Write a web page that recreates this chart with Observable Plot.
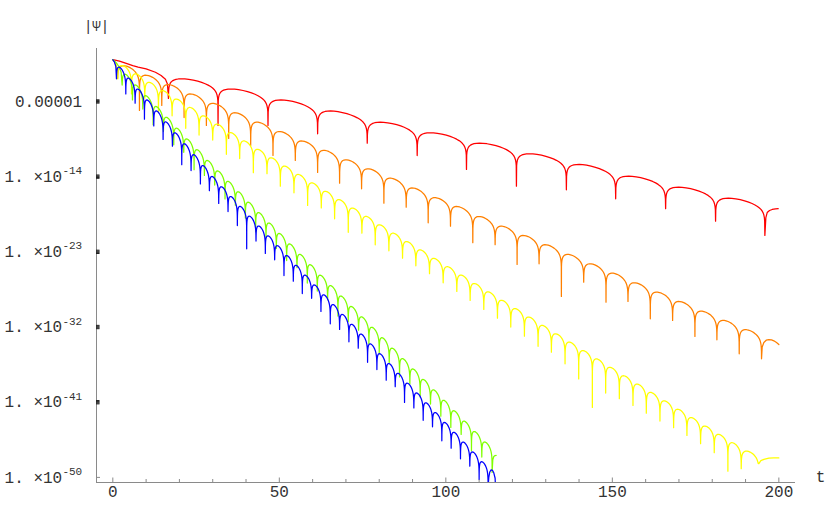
<!DOCTYPE html>
<html>
<head>
<meta charset="utf-8">
<script src="https://cdn.jsdelivr.net/npm/d3@7"></script>
<script src="https://cdn.jsdelivr.net/npm/@observablehq/plot@0.6"></script>
<style>
  html, body { margin: 0; padding: 0; background: #fff; }
  svg { display: block; }
</style>
</head>
<body>
<script>
// ---------- DATA (v = log10 |Psi|) ----------
// Red series
const redHead = [[0,0],[2,-0.18],[3.8,-0.42],[6,-0.7],[7.6,-0.88],[10,-1.1],[12.8,-1.5],[14.5,-1.9],[15.8,-2.35],[16.4,-2.9]];
const redDips = [16.7, 31.6, 46.6, 61.5, 76.4, 91.4, 106.2, 121.2, 136.2, 151.0, 166.0, 181.0, 195.8];
const redDepths = [-4.64, -7.87, -7.87, -8.87, -10.00, -11.47, -13.14, -15.14, -15.57, -16.65, -17.84, -19.33, -21.04];
const redTops = [-2.29, -3.51, -4.82, -6.14, -7.48, -8.75, -9.99, -11.26, -12.54, -13.94, -15.26, -16.58];
const redTail = [[196.1,-18.9],[196.5,-18.3],[197.2,-18.05],[198,-17.93],[199,-17.86],[199.8,-17.84]];

// Orange series
const orangeHead = [[0,0],[0.6,-0.3],[1.1,-0.9]];
const orangeDips = [1.4, 8.0, 14.7, 21.4, 28.1, 34.8, 41.4, 48.1, 54.8, 61.5, 68.1, 74.7, 81.4, 88.1, 94.7, 101.4, 108.1, 114.8, 121.4, 128.0, 134.7, 141.4, 148.1, 154.7, 161.4, 168.1, 174.8, 181.4, 188.1, 194.8];
const orangeDepths = [-2.25, -6.08, -5.48, -6.92, -7.87, -9.43, -10.27, -11.46, -12.06, -13.50, -14.78, -15.45, -17.17, -17.65, -19.52, -19.93, -21.91, -22.15, -24.51, -24.43, -28.34, -26.63, -29.02, -28.94, -31.01, -31.21, -33.13, -33.53, -35.20, -35.80];
const orangeTops = [-0.73, -1.86, -2.98, -4.10, -5.23, -6.35, -7.48, -8.60, -9.73, -10.85, -11.98, -13.06, -14.18, -15.35, -16.52, -17.57, -18.77, -19.93, -21.04, -22.15, -23.31, -24.43, -25.55, -26.70, -27.82, -28.94, -30.10, -31.21, -32.32];
const orangeTail = [[195.0,-34.4],[195.5,-33.85],[196.2,-33.58],[197,-33.5],[197.8,-33.53],[198.5,-33.65],[199.3,-33.86],[200,-34.1]];

// Yellow series
const yellowHead = [[0,0],[0.7,-0.3],[1.2,-1.0]];
const yellowDips = [1.5, 5.6, 9.6, 13.7, 17.8, 21.9, 25.9, 30.0, 34.1, 38.1, 42.2, 46.3, 50.3, 54.4, 58.5, 62.6, 66.6, 70.7, 74.8, 78.8, 82.9, 87.0, 91.0, 95.1, 99.2, 103.3, 107.3, 111.4, 115.5, 119.5, 123.6, 127.7, 131.7, 135.8, 139.9, 144.0, 148.0, 152.1, 156.2, 160.2, 164.3, 168.4, 172.4, 176.5, 180.6, 184.7, 188.7, 194.0];
const yellowDepths = [-2.30, -4.10, -4.61, -6.31, -6.71, -8.22, -9.02, -9.62, -11.33, -11.83, -13.53, -13.64, -15.14, -15.94, -17.45, -17.75, -19.05, -20.66, -20.76, -22.16, -22.87, -23.76, -24.67, -25.62, -26.70, -27.74, -28.82, -29.89, -30.94, -32.01, -33.09, -34.31, -35.01, -36.41, -38.22, -41.63, -39.91, -40.58, -41.38, -42.31, -43.26, -44.05, -44.97, -45.97, -47.04, -49.25, -48.96, -48.36];
const yellowTops = [-0.70, -1.70, -2.71, -3.71, -4.71, -5.72, -6.72, -7.72, -8.73, -9.73, -10.73, -11.74, -12.74, -13.74, -14.75, -15.75, -16.75, -17.76, -18.76, -19.76, -20.77, -21.77, -22.77, -23.78, -24.78, -25.79, -26.79, -27.79, -28.80, -29.80, -30.80, -31.81, -32.81, -33.81, -34.82, -35.82, -36.82, -37.83, -38.83, -39.83, -40.84, -41.84, -42.84, -43.85, -44.85, -45.85, -46.86];
const yellowTail = [[194.6,-48.0],[195.5,-47.85],[197,-47.7],[198.5,-47.66],[200,-47.67]];

// Green series
const greenHead = [[0,0],[1,-0.35],[1.9,-0.85],[2.5,-1.5]];
const greenDips = [2.8, 5.9, 9.0, 12.1, 15.2, 18.3, 21.3, 24.4, 27.5, 30.6, 33.7, 36.8, 39.8, 42.9, 46.0, 49.1, 52.2, 55.3, 58.4, 61.4, 64.5, 67.6, 70.7, 73.8, 76.9, 80.0, 83.0, 86.1, 89.2, 92.3, 95.4, 98.5, 101.5, 104.6, 107.7, 110.8, 113.9];
const greenDepths = [-3.03, -4.82, -5.91, -7.80, -8.59, -10.19, -11.08, -13.17, -13.86, -15.01, -16.66, -17.41, -18.96, -20.60, -21.25, -22.60, -24.05, -24.90, -26.74, -27.69, -28.74, -30.69, -31.34, -32.38, -34.03, -35.18, -36.23, -37.98, -38.82, -40.37, -41.22, -42.67, -44.02, -44.86, -46.81, -47.56, -49.4];
const greenTops = [-1.73, -3.02, -4.31, -5.60, -6.89, -8.19, -9.48, -10.77, -12.06, -13.31, -14.56, -15.81, -17.06, -18.30, -19.55, -20.80, -22.05, -23.30, -24.54, -25.79, -27.04, -28.29, -29.54, -30.78, -32.03, -33.28, -34.53, -35.78, -37.02, -38.27, -39.52, -40.77, -42.02, -43.26, -44.51, -45.76];
const greenTail = [[114.1,-47.9],[114.4,-47.5],[114.8,-47.38],[115.1,-47.37]];

// Blue series
const blueHead = [[0,0],[0.5,-0.3],[0.9,-0.8]];
const blueDips = [1.1, 3.9, 6.7, 9.5, 12.3, 15.1, 17.9, 20.7, 23.5, 26.3, 29.0, 31.8, 34.6, 37.4, 40.2, 43.0, 45.8, 48.6, 51.4, 54.2, 56.9, 59.7, 62.5, 65.3, 68.1, 70.9, 73.7, 76.5, 79.3, 82.1, 84.8, 87.6, 90.4, 93.2, 96.0, 98.8, 101.6, 104.4, 107.2, 110.0, 112.7];
const blueDepths = [-2.29, -4.10, -5.21, -7.12, -7.93, -9.54, -10.35, -12.56, -13.27, -14.87, -15.68, -17.21, -18.18, -19.86, -22.63, -21.71, -23.19, -23.96, -25.84, -26.51, -27.99, -28.56, -30.14, -31.61, -32.29, -33.77, -34.54, -36.22, -37.09, -38.37, -39.14, -41.02, -41.69, -43.17, -43.94, -45.62, -46.50, -47.77, -48.65, -50.22, -51.1];
const blueTops = [-0.89, -2.20, -3.51, -4.82, -6.13, -7.44, -8.75, -10.06, -11.37, -12.67, -13.98, -15.21, -16.38, -17.56, -18.73, -19.91, -21.09, -22.26, -23.44, -24.61, -25.79, -26.96, -28.14, -29.31, -30.49, -31.67, -32.84, -34.02, -35.19, -36.37, -37.54, -38.72, -39.89, -41.07, -42.24, -43.42, -44.60, -45.77, -46.95, -48.12];
const blueTail = [[112.9,-50.0],[113.2,-49.35],[113.6,-49.1],[114.0,-49.15],[114.4,-49.45],[114.8,-50.1],[115.0,-52]];

// Axis ticks and labels
const xLabelTicks = [0, 50, 100, 150, 200];
const xMinorTicks = [10, 20, 30, 40, 60, 70, 80, 90, 110, 120, 130, 140, 160, 170, 180, 190];
const yTickExps = [-5, -14, -23, -32, -41, -50];
const yPlainLabel = ["0.00001"];
const yMantissas = ["1. ×10", "1. ×10", "1. ×10", "1. ×10", "1. ×10"];
const ySupers = ["-14", "-23", "-32", "-41", "-50"];

// ---------- shape of one half-oscillation arch in log space (drawing template) ----------
const ARCH_F = [0.004, 0.01, 0.02, 0.035, 0.055, 0.08, 0.11, 0.15, 0.2, 0.26, 0.33, 0.41, 0.5, 0.59, 0.67, 0.74, 0.8, 0.85, 0.89, 0.92, 0.945, 0.965, 0.98, 0.99, 0.996];
const ARCH_S = [-1.9008, -1.5029, -1.2021, -0.9597, -0.7647, -0.6044, -0.4701, -0.3429, -0.2308, -0.1373, -0.0651, -0.0176, 0, -0.0176, -0.0651, -0.1373, -0.2308, -0.3429, -0.4701, -0.6044, -0.7647, -0.9597, -1.2021, -1.5029, -1.9008];

function buildSeries(name, head, dips, depths, tops, tail) {
  const pts = head.map(([t, v]) => ({series: name, t, v}));
  for (let k = 0; k < dips.length; k++) {
    pts.push({series: name, t: dips[k], v: depths[k]});
    if (k < tops.length) {
      const a = dips[k], b = dips[k + 1];
      const D = (k + 1 < tops.length) ? tops[k] - tops[k + 1] : tops[k - 1] - tops[k];
      const raw = ARCH_F.map((f, i) => -D * f + ARCH_S[i]);
      const mx = Math.max(...raw);
      ARCH_F.forEach((f, i) => {
        const floor = f < 0.5 ? depths[k] : depths[k + 1];
        pts.push({series: name, t: a + f * (b - a), v: Math.max(tops[k] + raw[i] - mx, floor)});
      });
    }
  }
  tail.forEach(([t, v]) => pts.push({series: name, t, v}));
  return pts;
}

const series = [
  {name: "red", color: "#ff0000", pts: buildSeries("red", redHead, redDips, redDepths, redTops, redTail)},
  {name: "orange", color: "#ff8000", pts: buildSeries("orange", orangeHead, orangeDips, orangeDepths, orangeTops, orangeTail)},
  {name: "yellow", color: "#ffff00", pts: buildSeries("yellow", yellowHead, yellowDips, yellowDepths, yellowTops, yellowTail)},
  {name: "green", color: "#80ff00", pts: buildSeries("green", greenHead, greenDips, greenDepths, greenTops, greenTail)},
  {name: "blue", color: "#0000ff", pts: buildSeries("blue", blueHead, blueDips, blueDepths, blueTops, blueTail)}
];

// ---------- layout ----------
const W = 830, H = 513;
const mL = 96, mR = 35, mT = 48, mB = 31;
const plotW = W - mL - mR, plotH = H - mT - mB;
const xDom = [-4.9, 205];
const yDomLog = [-50.61, 1.34];
const yDom = yDomLog.map(e => Math.pow(10, e));
const axisColor = "#8a8a8a";
const textColor = "#333";
const FONT = "'Liberation Mono', 'DejaVu Sans Mono', monospace";

const clusterTicks = yTickExps.filter(e => e !== -50).flatMap(e => [-0.2, -0.1, 0, 0.1, 0.2].map(o => e + o));

const chart = Plot.plot({
  width: W, height: H,
  marginLeft: mL, marginRight: mR, marginTop: mT, marginBottom: mB,
  x: {domain: xDom, axis: null},
  y: {type: "log", domain: yDom, axis: null},
  style: {background: "white", fontFamily: FONT},
  marks: [
    // axis lines
    Plot.ruleX([xDom[0]], {stroke: axisColor, strokeWidth: 1}),
    Plot.ruleY([yDom[0]], {stroke: axisColor, strokeWidth: 1}),
    // x ticks (inward)
    Plot.ruleX(xLabelTicks, {x: d => d, insetTop: plotH - 4.5, stroke: axisColor}),
    Plot.ruleX(xMinorTicks, {x: d => d, insetTop: plotH - 3, stroke: axisColor}),
    // y ticks (inward, clustered)
    Plot.ruleY(clusterTicks, {y: d => Math.pow(10, d), insetRight: plotW - 3.5, stroke: "#222", strokeWidth: 1}),
    Plot.ruleY([-50], {y: d => Math.pow(10, d), insetRight: plotW - 4, stroke: axisColor}),
    // curves
    ...series.map(s => Plot.line(s.pts, {
      x: "t", y: d => Math.pow(10, d.v),
      stroke: s.color, strokeWidth: 1.25, curve: "linear", clip: true
    })),
    // x tick labels
    Plot.text(xLabelTicks, {x: d => d, text: d => String(d), frameAnchor: "bottom", dy: 14, fontSize: 16, fill: textColor, textAnchor: "middle"}),
    // y tick labels
    Plot.text(yPlainLabel, {y: () => Math.pow(10, yTickExps[0]), text: d => d, frameAnchor: "left", dx: -14.3, textAnchor: "end", fontSize: 16, fill: textColor}),
    Plot.text(yMantissas, {y: (d, i) => Math.pow(10, yTickExps[i + 1]), text: d => d, frameAnchor: "left", dx: -34.3, textAnchor: "end", fontSize: 16, fill: textColor}),
    Plot.text(ySupers, {y: (d, i) => Math.pow(10, yTickExps[i + 1]), text: d => d, frameAnchor: "left", dx: -14.3, dy: -6, textAnchor: "end", fontSize: 11, fill: textColor}),
    // axis titles
    Plot.text(["t"], {frameAnchor: "bottom-right", dx: 25, dy: -1, textAnchor: "middle", fontSize: 16, fill: textColor}),
    Plot.text(["|Ψ|"], {frameAnchor: "top-left", dy: -27, textAnchor: "middle", fontSize: 14, fill: textColor})
  ]
});
document.body.appendChild(chart);
</script>
</body>
</html>
